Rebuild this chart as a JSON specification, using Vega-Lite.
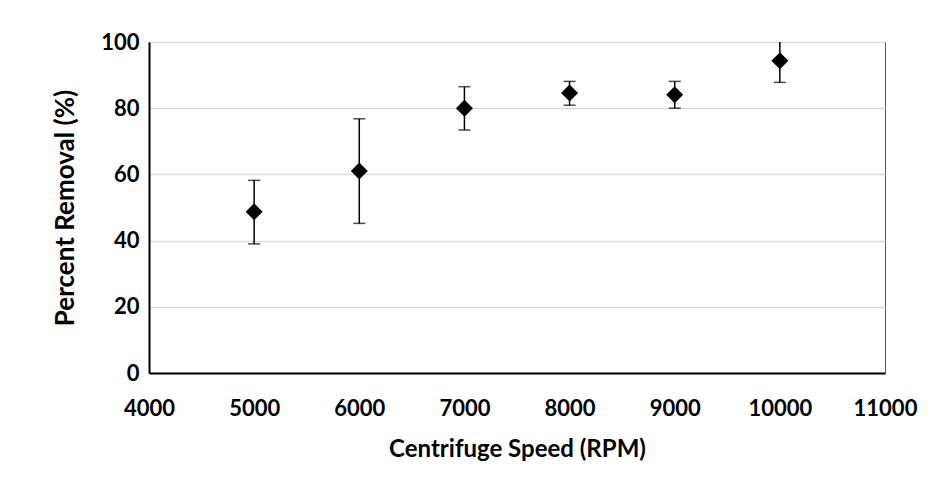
{
  "$schema": "https://vega.github.io/schema/vega-lite/v6.json",
  "width": 736,
  "height": 331,
  "autosize": {"type": "none"},
  "padding": {"left": 149, "top": 42, "right": 51, "bottom": 117},
  "background": "white",
  "config": {
    "font": "Lato",
    "view": {"stroke": "#595959", "strokeWidth": 1},
    "axis": {
      "labelFont": "Lato", "labelFontWeight": "bold", "labelFontSize": 22, "labelColor": "black",
      "titleFont": "Lato", "titleFontWeight": "bold", "titleFontSize": 24, "titleColor": "black",
      "ticks": false, "domainColor": "black", "domainWidth": 2, "labelFlush": false
    }
  },
  "data": {"values": [
    {"speed": 5000, "removal": 48.7, "lo": 39.0, "hi": 58.2},
    {"speed": 6000, "removal": 61.0, "lo": 45.2, "hi": 76.8},
    {"speed": 7000, "removal": 80.0, "lo": 73.4, "hi": 86.5},
    {"speed": 8000, "removal": 84.6, "lo": 80.9, "hi": 88.1},
    {"speed": 9000, "removal": 84.1, "lo": 80.0, "hi": 88.1},
    {"speed": 10000, "removal": 94.3, "lo": 87.8, "hi": 100.8}
  ]},
  "encoding": {
    "x": {
      "field": "speed", "type": "quantitative",
      "scale": {"domain": [4000, 11000], "nice": false, "zero": false},
      "axis": {"values": [4000, 5000, 6000, 7000, 8000, 9000, 10000, 11000], "format": "d", "grid": false, "labelPadding": 25, "labelOverlap": false, "title": "Centrifuge Speed (RPM)", "titlePadding": 18}
    }
  },
  "layer": [
    {
      "mark": {"type": "rule", "color": "black", "strokeWidth": 1.5, "clip": true},
      "encoding": {
        "y": {"field": "lo", "type": "quantitative", "scale": {"domain": [0, 100], "nice": false},
          "axis": {"values": [0, 20, 40, 60, 80, 100], "grid": true, "gridColor": "#d9d9d9", "gridWidth": 1.5, "labelPadding": 10, "title": "Percent Removal (%)", "titleFontSize": 26, "titlePadding": 22}},
        "y2": {"field": "hi"}
      }
    },
    {
      "mark": {"type": "tick", "orient": "horizontal", "color": "black", "size": 12, "thickness": 1.5, "clip": true},
      "encoding": {"y": {"field": "lo", "type": "quantitative"}}
    },
    {
      "mark": {"type": "tick", "orient": "horizontal", "color": "black", "size": 12, "thickness": 1.5, "clip": true},
      "encoding": {"y": {"field": "hi", "type": "quantitative"}}
    },
    {
      "mark": {"type": "point", "shape": "diamond", "filled": true, "color": "black", "size": 289, "opacity": 1},
      "encoding": {"y": {"field": "removal", "type": "quantitative"}}
    }
  ]
}
